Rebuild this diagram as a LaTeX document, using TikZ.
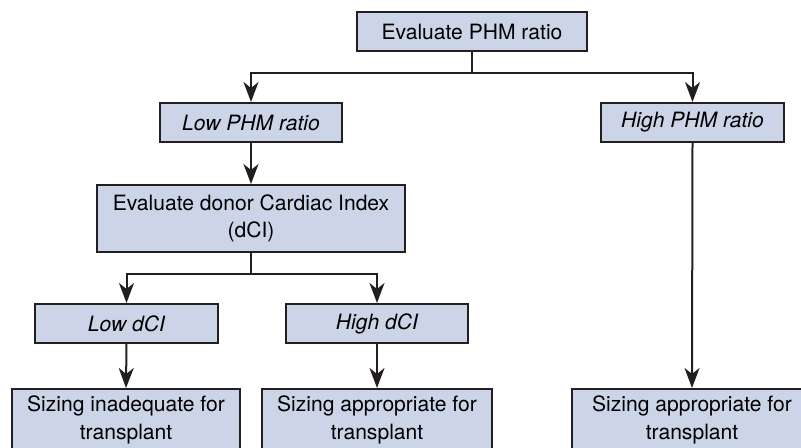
\documentclass[tikz,border=0pt]{standalone}
\usepackage{fontspec}
\setsansfont{TeX Gyre Heros}
\usetikzlibrary{arrows.meta}
\definecolor{boxblue}{RGB}{204,213,231}
\definecolor{linegray}{RGB}{35,31,32}

\begin{document}
\begin{tikzpicture}[x=0.02cm,y=-0.02cm,
    box/.style={draw=linegray,line width=0.04cm,fill=boxblue,align=center,inner sep=0pt,
        font=\sffamily\fontsize{12}{16}\selectfont},
    pick/.style={box,font=\sffamily\itshape\fontsize{12}{16}\selectfont,
        minimum width=3.66cm,minimum height=0.78cm},
    link/.style={draw=linegray,line width=0.04cm},
    arr/.style={link,-{Stealth[length=0.4cm,width=0.3cm,inset=0.12cm]}}]
            \useasboundingbox (0,0) rectangle (801,448);
            \clip (0,0) rectangle (801,448);

            % first question
            \node[box,minimum width=4.6cm,minimum height=0.78cm] (phm) at (472,31.5) {Evaluate PHM ratio};
            \node[pick] (lowphm) at (251,122.5) {Low PHM ratio};
            \node[pick] (highphm) at (692.5,122.5) {High PHM ratio};
            \coordinate (phmsplit) at (472,73);
            \draw[link] (phm.south) -- (phmsplit);
            \draw[arr] (phmsplit) -| (lowphm.north);
            \draw[arr] (phmsplit) -| (highphm.north);

            % donor cardiac index
            \node[box,minimum width=6.16cm,minimum height=1.34cm] (dci) at (251,218.5) {Evaluate donor Cardiac Index\\[-1pt](dCI)};
            \draw[arr] (lowphm.south) -- (dci.north);
            \node[pick] (lowdci) at (126.5,323.5) {Low dCI};
            \node[pick] (highdci) at (377,323.5) {High dCI};
            \coordinate (dcisplit) at (251,274);
            \draw[link] (dci.south) -- (dcisplit);
            \draw[arr] (dcisplit) -| (lowdci.north);
            \draw[arr] (dcisplit) -| (highdci.north);

            % outcomes
            \node[box,anchor=north,minimum width=4.56cm,minimum height=1.24cm] (inadequate) at (126,388) {Sizing inadequate for\\transplant};
            \node[box,anchor=north,minimum width=4.6cm,minimum height=1.24cm] (fitdci) at (377,388) {Sizing appropriate for\\transplant};
            \node[box,anchor=north,minimum width=4.8cm,minimum height=1.24cm] (fitphm) at (692,388) {Sizing appropriate for\\transplant};
            \draw[arr] (lowdci.south) -- (inadequate.north);
            \draw[arr] (highdci.south) -- (fitdci.north);
            \draw[arr] (highphm.south) -- (fitphm.north);
        \end{tikzpicture}
\end{document}
